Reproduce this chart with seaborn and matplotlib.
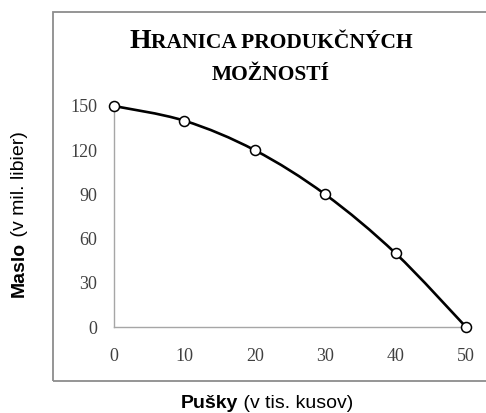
import numpy as np
import seaborn as sns
import matplotlib.pyplot as plt
from matplotlib.path import Path
from matplotlib.patches import PathPatch, Rectangle

# data
guns = [0, 10, 20, 30, 40, 50]            # Pušky (v tis. kusov)
butter = [150, 140, 120, 90, 50, 0]       # Maslo (v mil. libier)
x_ticks = [0, 10, 20, 30, 40, 50]
y_ticks = [0, 30, 60, 90, 120, 150]
title_lines = [[("H", 20), ("RANICA PRODUKČNÝCH", 15.5)],
               [("MOŽNOSTÍ", 15.5)]]
x_title = [("Pušky", "bold"), (" (v tis. kusov)", "normal")]
y_title = [("Maslo", "bold"), (" (v mil. libier)", "normal")]

sns.set_style("white")
plt.rcParams["font.family"] = ["Liberation Serif", "DejaVu Serif"]

W, H = 486, 413
fig = plt.figure(figsize=(W / 100, H / 100), dpi=100)
ax = fig.add_axes([114 / W, (H - 327) / H, 352 / W, 221 / H])

# chart frame (runs off the right edge like the original)
fig.patches.append(Rectangle((53 / W, (H - 381) / H), 1.0, (381 - 12) / H,
                             transform=fig.transFigure, fill=False,
                             edgecolor="#8c8c8c", linewidth=1.3))

# smoothed line (catmull-rom -> cubic bezier through the data points)
pts = np.column_stack([guns, butter]).astype(float)
ext = np.vstack([pts[0], pts, pts[-1]])
verts, codes = [tuple(pts[0])], [Path.MOVETO]
for i in range(len(pts) - 1):
    p0, p1, p2, p3 = ext[i], ext[i + 1], ext[i + 2], ext[i + 3]
    verts += [tuple(p1 + (p2 - p0) / 6), tuple(p2 - (p3 - p1) / 6), tuple(p2)]
    codes += [Path.CURVE4] * 3
ax.add_patch(PathPatch(Path(verts, codes), fill=False, edgecolor="black",
                       linewidth=1.9, zorder=2, clip_on=False))

sns.scatterplot(x=guns, y=butter, ax=ax, marker="o", s=52, color="white",
                edgecolor="black", linewidth=1.1, zorder=3, clip_on=False)

ax.set_xlim(0, 50)
ax.set_ylim(0, 150)
ax.set_xticks(x_ticks)
ax.set_yticks(y_ticks)
for s in ["top", "right"]:
    ax.spines[s].set_visible(False)
for s in ["left", "bottom"]:
    ax.spines[s].set_color("#a6a6a6")
    ax.spines[s].set_linewidth(1.0)
ax.tick_params(axis="both", direction="out", length=4, width=1.0,
               color="#a6a6a6", labelsize=13, labelcolor="#404040")
ax.tick_params(axis="x", pad=11)
ax.tick_params(axis="y", pad=8)
ax.set_xlabel("")
ax.set_ylabel("")

fig.canvas.draw()
renderer = fig.canvas.get_renderer()

# small-caps title built from pieces, then centred
baselines = [1 - 48 / H, 1 - 80 / H]
for line, yb in zip(title_lines, baselines):
    texts = [fig.text(0, yb, s, fontsize=fs, fontweight="bold", va="baseline",
                      ha="left", color="black") for s, fs in line]
    widths = [t.get_window_extent(renderer).width / W for t in texts]
    x = 271 / W - sum(widths) / 2
    for t, w in zip(texts, widths):
        t.set_x(x)
        x += w

# axis titles sit outside the frame (bold word + regular rest)
sans = ["Liberation Sans", "DejaVu Sans"]
texts = [fig.text(0, 1 - 408 / H, s, fontsize=14, fontweight=fw, family=sans,
                  ha="left", va="baseline", color="black") for s, fw in x_title]
widths = [t.get_window_extent(renderer).width / W for t in texts]
x = 267 / W - sum(widths) / 2
for t, w in zip(texts, widths):
    t.set_x(x)
    x += w

texts = [fig.text(24 / W, 0, s, fontsize=14, fontweight=fw, family=sans,
                  ha="left", va="baseline", rotation=90, color="black",
                  rotation_mode="anchor") for s, fw in y_title]
heights = [t.get_window_extent(renderer).height / H for t in texts]
y = 1 - 214 / H - sum(heights) / 2
for t, h in zip(texts, heights):
    t.set_y(y)
    y += h

fig.savefig("out.png", dpi=100)
